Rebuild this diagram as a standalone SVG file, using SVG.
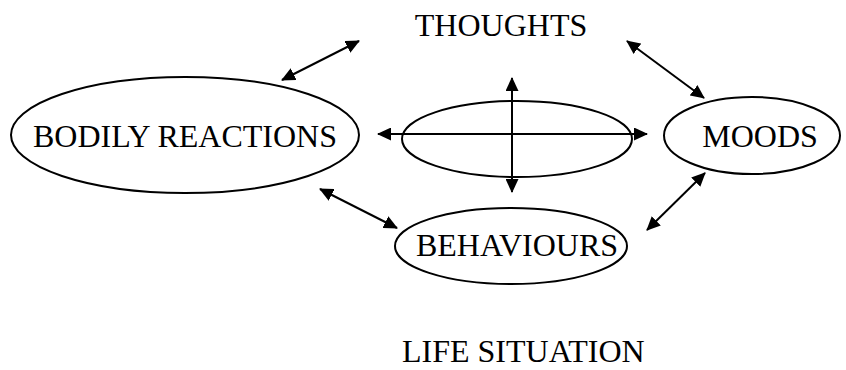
<svg xmlns="http://www.w3.org/2000/svg" width="846" height="370" viewBox="0 0 846 370">
<style>
  text { font-family: 'Liberation Serif', 'Times New Roman', 'DejaVu Serif', serif; font-size: 32px; fill: #000; }
  .node { fill: none; stroke: #000; stroke-width: 2; }
  .conn { stroke: #000; stroke-width: 2; fill: none; marker-start: url(#ah); marker-end: url(#ah); }
</style>
<defs>
  <marker id="ah" viewBox="0 0 14 13" markerWidth="14" markerHeight="13" refX="13" refY="6.5" orient="auto-start-reverse" markerUnits="userSpaceOnUse">
    <path d="M0,0 L14,6.5 L0,13 z" fill="#000"/>
  </marker>
</defs>
<rect width="846" height="370" fill="#fff"/>
<g id="thoughts">
  <text x="501" y="36" text-anchor="middle" font-family="Liberation Serif, serif">THOUGHTS</text>
</g>
<g id="bodily-reactions">
  <ellipse class="node" cx="185" cy="135" rx="174" ry="58"/>
  <text x="185" y="147" text-anchor="middle" font-family="Liberation Serif, serif">BODILY REACTIONS</text>
</g>
<g id="center">
  <ellipse class="node" cx="517" cy="139" rx="115" ry="38"/>
</g>
<g id="moods">
  <ellipse class="node" cx="752" cy="135.5" rx="88" ry="38.5"/>
  <text x="760" y="147" text-anchor="middle" font-family="Liberation Serif, serif">MOODS</text>
</g>
<g id="behaviours">
  <ellipse class="node" cx="511" cy="246" rx="116" ry="38"/>
  <text x="517" y="256" text-anchor="middle" font-family="Liberation Serif, serif">BEHAVIOURS</text>
</g>
<g id="life-situation">
  <text x="402" y="362" font-family="Liberation Serif, serif">LIFE SITUATION</text>
</g>
<g id="connectors">
  <line class="conn" x1="282" y1="80" x2="359" y2="41"/>
  <line class="conn" x1="627" y1="41" x2="704" y2="98"/>
  <line class="conn" x1="378" y1="134" x2="647" y2="134"/>
  <line class="conn" x1="512" y1="78" x2="512" y2="192"/>
  <line class="conn" x1="320" y1="189" x2="397" y2="228"/>
  <line class="conn" x1="647" y1="230" x2="705" y2="173"/>
</g>
</svg>
